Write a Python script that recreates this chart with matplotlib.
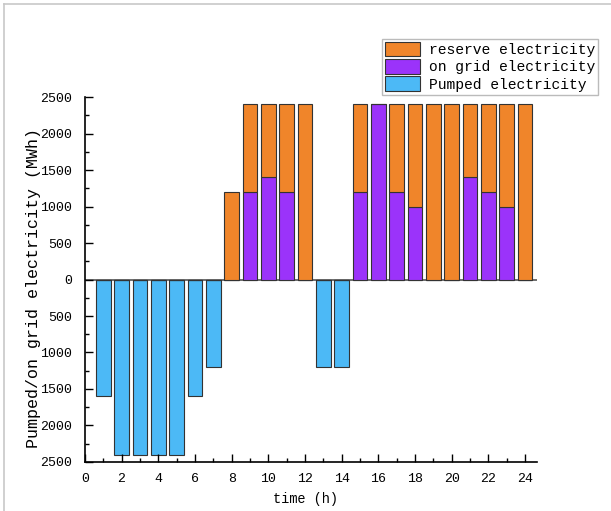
import matplotlib.pyplot as plt
from matplotlib.ticker import MultipleLocator, FuncFormatter
from matplotlib.lines import Line2D

plt.rcParams['font.family'] = ['Liberation Mono', 'DejaVu Sans']

# 数据
hours = list(range(1, 25))
pumped = [-1600, -2400, -2400, -2400, -2400, -1600, -1200, 0, 0, 0, 0, 0,
          -1200, -1200, 0, 0, 0, 0, 0, 0, 0, 0, 0, 0]
on_grid = [0, 0, 0, 0, 0, 0, 0, 0, 1200, 1400, 1200, 0,
           0, 0, 1200, 2400, 1200, 1000, 0, 0, 1400, 1200, 1000, 0]
reserve = [0, 0, 0, 0, 0, 0, 0, 1200, 1200, 1000, 1200, 2400,
           0, 0, 1200, 0, 1200, 1400, 2400, 2400, 1000, 1200, 1400, 2400]

c_res = '#F0852A'
c_grid = '#9B33FA'
c_pump = '#4CB9F6'

fig = plt.figure(figsize=(6.11, 5.11), dpi=100)
ax = fig.add_axes([0.139, 0.096, 0.740, 0.714])

kw = dict(width=0.8, edgecolor='#333333', linewidth=0.8)
b1 = ax.bar(hours, pumped, color=c_pump, **kw)
b2 = ax.bar(hours, on_grid, color=c_grid, **kw)
b3 = ax.bar(hours, reserve, bottom=on_grid, color=c_res, **kw)

ax.axhline(0, color='#555555', linewidth=1.2, zorder=0.5)

ax.set_xlim(0, 24.65)
ax.set_ylim(-2500, 2500)
ax.xaxis.set_major_locator(MultipleLocator(2))
ax.xaxis.set_minor_locator(MultipleLocator(1))
ax.yaxis.set_major_locator(MultipleLocator(500))
ax.yaxis.set_minor_locator(MultipleLocator(250))
ax.yaxis.set_major_formatter(FuncFormatter(lambda v, p: '%d' % abs(v)))
ax.tick_params(which='both', direction='in', labelsize=9.5, width=1)
ax.tick_params(which='major', length=6)
ax.tick_params(which='minor', length=3)
ax.tick_params(axis='y', pad=9)
ax.tick_params(axis='x', pad=8)
ax.spines['top'].set_visible(False)
ax.spines['right'].set_visible(False)
for s in ['left', 'bottom']:
    ax.spines[s].set_linewidth(1.2)

ax.set_xlabel('time (h)', fontsize=9.8)
ax.set_ylabel('Pumped/on grid electricity (MWh)', fontsize=12)
ax.xaxis.set_label_coords(0.487, -0.083)
ax.yaxis.set_label_coords(-0.098, 0.477)

fig.legend([b3, b2, b1], ['reserve electricity', 'on grid electricity', 'Pumped electricity'],
           loc='upper right', bbox_to_anchor=(0.979, 0.924), fontsize=10.5,
           frameon=True, fancybox=False, edgecolor='#bbbbbb', framealpha=1,
           handlelength=2.4, handleheight=1.15, handletextpad=0.65,
           labelspacing=0.15, borderpad=0.2, borderaxespad=0)

# 外边框
fig.add_artist(Line2D([0.007, 0.007], [0, 0.993], color='#c8c8c8', linewidth=1.2))
fig.add_artist(Line2D([0.007, 1], [0.993, 0.993], color='#c8c8c8', linewidth=1.2))

fig.savefig('out.png', dpi=100)
